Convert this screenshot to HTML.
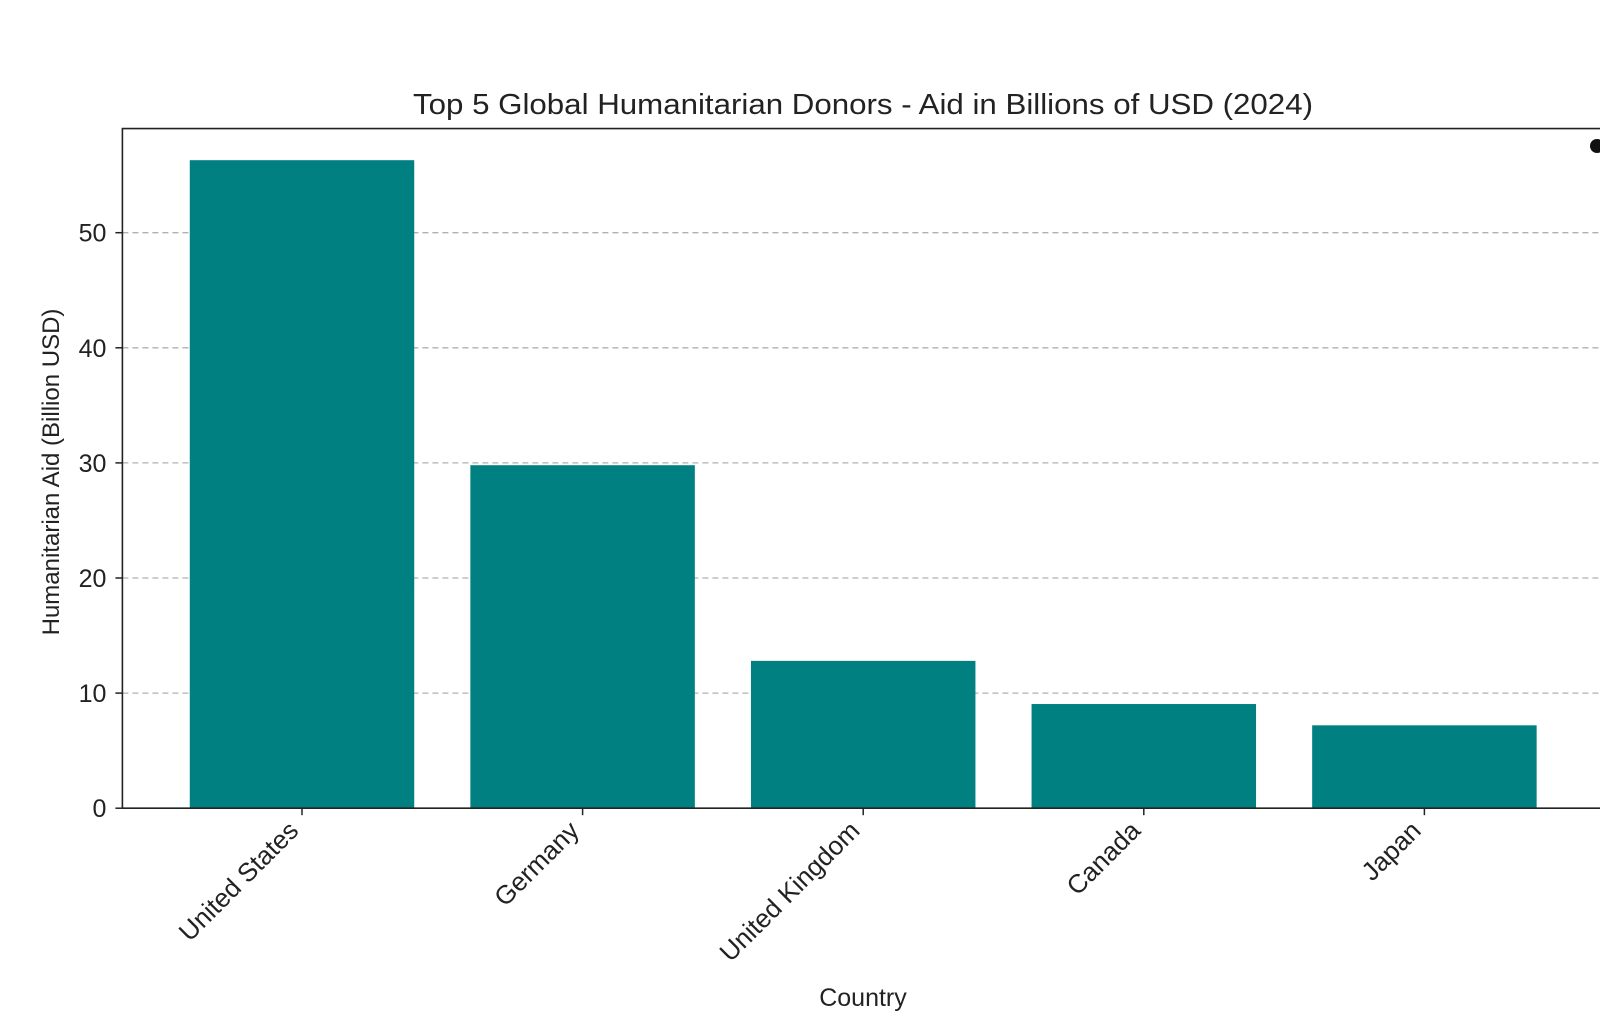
<!DOCTYPE html>
<html><head><meta charset="utf-8"><style>
html,body{margin:0;padding:0;background:#fff;}
svg{display:block;font-family:"Liberation Sans",sans-serif;}
</style></head><body>
<svg id="chart" width="1600" height="1033" viewBox="0 0 1600 1033">
<text x="863" y="114" font-size="29" text-anchor="middle" fill="#222" textLength="900" lengthAdjust="spacingAndGlyphs">Top 5 Global Humanitarian Donors - Aid in Billions of USD (2024)</text>
<g id="grid"></g>
<g id="bars"></g>
<g id="axes"></g>
<text x="863" y="1006" font-size="25" text-anchor="middle" fill="#222">Country</text>
<text transform="translate(59,472) rotate(-90)" font-size="24" text-anchor="middle" fill="#222">Humanitarian Aid (Billion USD)</text>
<circle cx="1597" cy="146" r="7" fill="#111"/>
</svg>
<script>
const categories=["United States","Germany","United Kingdom","Canada","Japan"];
const values=[56.3,29.8,12.8,9.05,7.2];
const yTicks=[0,10,20,30,40,50];
const NS="http://www.w3.org/2000/svg";
const L=122.4,T=128.6,B=808.2,R=1640;
const pxPerUnit=(B-232.7)/50;
function y(v){return B-v*pxPerUnit;}
const band=280.6,c0=302;
function x(i){return c0+i*band;}
const bw=band*0.8;
function mk(tag,attrs,parent){const e=document.createElementNS(NS,tag);for(const k in attrs)e.setAttribute(k,attrs[k]);parent.appendChild(e);return e;}
const grid=document.getElementById('grid'),bars=document.getElementById('bars'),axes=document.getElementById('axes');
yTicks.forEach(t=>{
 if(t>0){const g=mk('line',{x1:L,x2:R,y1:y(t),y2:y(t),stroke:'#b0b0b0','stroke-width':1.3,'stroke-dasharray':'6,4'},grid);
 
 }
 const tk=mk('line',{x1:L-7,x2:L,y1:y(t),y2:y(t),stroke:'#222','stroke-width':1.5},axes);
 
 
 const tl=mk('text',{x:L-16,y:y(t)+9,'font-size':25,'text-anchor':'end',fill:'#222'},axes);
 tl.textContent=t;
 
 
});
categories.forEach((c,i)=>{
 const r=mk('rect',{x:x(i)-bw/2,y:y(values[i]),width:bw,height:B-y(values[i]),fill:'#008080'},bars);
 
 
 const tk=mk('line',{x1:x(i),x2:x(i),y1:B,y2:B+7,stroke:'#222','stroke-width':1.5},axes);
 
 
 const tl=mk('text',{transform:`translate(${x(i)-2},${B+24}) rotate(-45)`,'font-size':26,'text-anchor':'end',fill:'#222'},axes);
 tl.textContent=c;
 
 
});
const s1=mk('polyline',{points:`${R},${T} ${L},${T} ${L},${B} ${R},${B}`,fill:'none',stroke:'#222','stroke-width':1.6},axes);


</script>
</body></html>
